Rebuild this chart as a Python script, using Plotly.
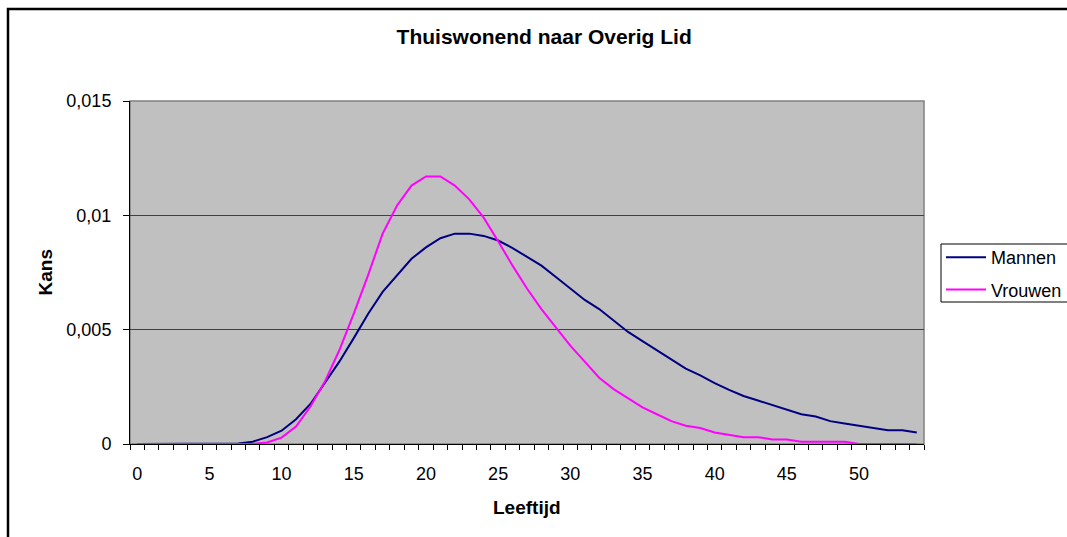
import plotly.graph_objects as go

leeftijd = list(range(0, 55))
mannen = [0, 0, 0, 0, 0, 0, 0, 0.00002, 0.0001, 0.0003,
          0.00058, 0.00108, 0.00175, 0.00266, 0.0036, 0.00463, 0.0057, 0.00665, 0.0074, 0.0081,
          0.0086, 0.009, 0.0092, 0.0092, 0.0091, 0.0089, 0.00857, 0.0082, 0.0078, 0.0073,
          0.0068, 0.0063, 0.0059, 0.0054, 0.0049, 0.0045, 0.0041, 0.0037, 0.0033, 0.003,
          0.00266, 0.00237, 0.0021, 0.0019, 0.0017, 0.0015, 0.0013, 0.0012, 0.001, 0.0009,
          0.0008, 0.0007, 0.0006, 0.0006, 0.0005]
vrouwen = [0, 0, 0, 0, 0, 0, 0, 0, 0, 0.00007,
           0.00028, 0.00076, 0.00164, 0.00273, 0.0041, 0.0057, 0.0074, 0.0092, 0.01043, 0.0113,
           0.0117, 0.0117, 0.0113, 0.0107, 0.0099, 0.00887, 0.0078, 0.0068, 0.0059, 0.0051,
           0.0043, 0.0036, 0.0029, 0.0024, 0.002, 0.0016, 0.0013, 0.001, 0.0008, 0.0007,
           0.0005, 0.0004, 0.0003, 0.0003, 0.0002, 0.0002, 0.0001, 0.0001, 0.0001, 0.0001,
           0, 0, 0, 0, 0]

x_tickvals = [0, 5, 10, 15, 20, 25, 30, 35, 40, 45, 50]
x_ticktext = ["0", "5", "10", "15", "20", "25", "30", "35", "40", "45", "50"]
y_tickvals = [0, 0.005, 0.01, 0.015]
y_ticktext = ["0", "0,005", "0,01", "0,015"]

FONT = "Arial, Liberation Sans, sans-serif"

# pixel helpers for the plot area (130..924 x, 101..444 y)
def px(x):
    return (x - 130) / 794

def py(y):
    return (444 - y) / 343

fig = go.Figure()
fig.add_trace(go.Scatter(x=leeftijd, y=mannen, mode="lines", name="Mannen",
                         line=dict(color="#000080", width=2), legendgroup="m"))
fig.add_trace(go.Scatter(x=leeftijd, y=vrouwen, mode="lines", name="Vrouwen",
                         line=dict(color="#FF00FF", width=2), legendgroup="v"))

fig.update_layout(
    width=1067, height=537,
    margin=dict(l=130, r=143, t=101, b=93, autoexpand=False),
    paper_bgcolor="white",
    plot_bgcolor="#C0C0C0",
    font=dict(family=FONT, size=18, color="black"),
    title=dict(text="<b>Thuiswonend naar Overig Lid</b>", x=0.51, xanchor="center",
               y=1 - 37 / 537, yanchor="middle", font=dict(size=21, family=FONT)),
    showlegend=True,
    legend=dict(x=px(941), xanchor="left", y=py(239), yanchor="top",
                borderwidth=0, bgcolor="rgba(0,0,0,0)",
                font=dict(size=18, family=FONT), tracegroupgap=6, itemwidth=40,
                traceorder="grouped"),
    xaxis=dict(range=[-0.5, 54.5], tickmode="array", tickvals=x_tickvals, ticktext=x_ticktext,
               ticks="", showgrid=False, zeroline=False, showline=True, linecolor="black",
               linewidth=1, ticklabelstandoff=13,
               minor=dict(tickmode="linear", tick0=-0.5, dtick=1, ticks="outside", ticklen=5,
                          tickcolor="black", tickwidth=1, showgrid=False)),
    yaxis=dict(range=[0, 0.015], tickmode="array", tickvals=y_tickvals, ticktext=y_ticktext,
               ticks="outside", ticklen=6, tickcolor="black", showgrid=True,
               gridcolor="#404040", gridwidth=1, zeroline=False, showline=True,
               linecolor="black", linewidth=1, ticklabelstandoff=8),
    annotations=[
        dict(text="<b>Kans</b>", xref="paper", yref="paper", x=px(45), y=0.5,
             xanchor="center", yanchor="middle", textangle=-90, showarrow=False,
             font=dict(size=19, family=FONT)),
        dict(text="<b>Leeftijd</b>", xref="paper", yref="paper", x=px(527),
             y=py(507), xanchor="center", yanchor="middle", showarrow=False,
             font=dict(size=19, family=FONT)),
    ],
    shapes=[
        dict(type="rect", xref="paper", yref="paper", x0=0, x1=1, y0=0, y1=1,
             line=dict(color="#808080", width=1.5), layer="below"),
        dict(type="rect", xref="paper", yref="paper", x0=px(941), x1=px(1080),
             y0=py(302), y1=py(244), line=dict(color="black", width=1),
             fillcolor="white", layer="above"),
        dict(type="rect", xref="paper", yref="paper", x0=px(8), x1=1.3,
             y0=-0.5, y1=py(9), line=dict(color="black", width=2.5), layer="above"),
    ],
)

fig.write_html("out.html")
